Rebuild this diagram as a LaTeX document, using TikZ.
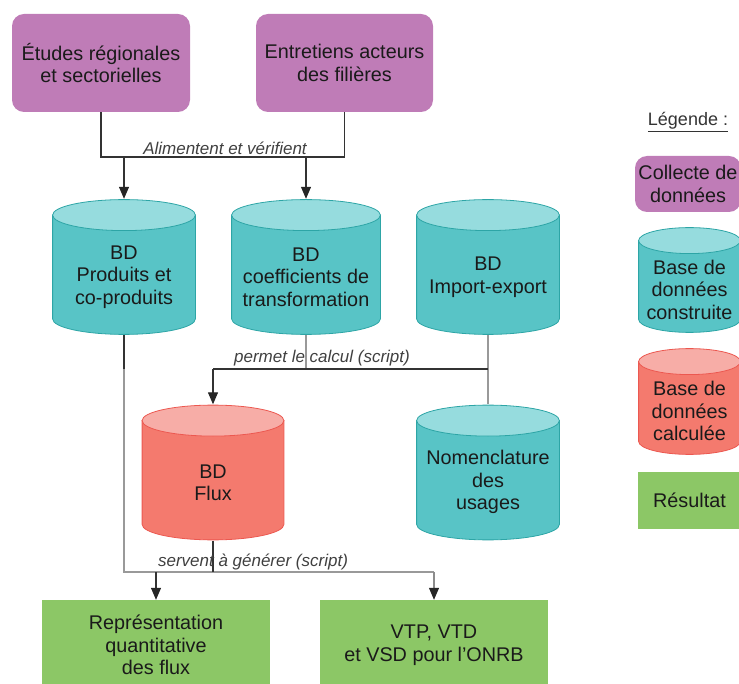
\documentclass[tikz,border=0pt]{standalone}
\usepackage{fontspec}
\setsansfont{Liberation Sans}
\usetikzlibrary{arrows.meta}
\usetikzlibrary{calc}

\definecolor{violet}{RGB}{191,124,183}
\definecolor{cyanCorps}{RGB}{88,196,198}
\definecolor{cyanHaut}{RGB}{150,220,222}
\definecolor{cyanBord}{RGB}{45,165,166}
\definecolor{rougeCorps}{RGB}{244,122,110}
\definecolor{rougeHaut}{RGB}{247,173,167}
\definecolor{rougeBord}{RGB}{236,88,80}
\definecolor{vert}{RGB}{140,199,102}
\definecolor{texte}{RGB}{26,26,26}

% cylindre dessine dans le rectangle du noeud : corps, dessus, bord, demi-hauteur de l'ellipse
\newcommand{\cylindreBD}[4]{%
	\path let \p1 = (path picture bounding box.north west), \p2 = (path picture bounding box.south east),
		\n1 = {(\x2-\x1)/2-0.6pt}, \n2 = {#4} in
		[fill = #1, draw = #3, line width = 0.8pt] ({\x1+0.6pt}, {\y1-\n2-0.6pt}) -- ({\x1+0.6pt}, {\y2+\n2+0.6pt})
		arc[start angle = 180, end angle = 360, x radius = {\n1*1pt}, y radius = {\n2*1pt}] -- ({\x2-0.6pt}, {\y1-\n2-0.6pt}) -- cycle;
	\path let \p1 = (path picture bounding box.north west), \p2 = (path picture bounding box.south east),
		\n1 = {(\x2-\x1)/2-0.6pt}, \n2 = {#4}, \n3 = {(\x1+\x2)/2} in
		[fill = #2, draw = #3, line width = 0.8pt] ({\n3*1pt}, {\y1-\n2-0.6pt}) ellipse [x radius = {\n1*1pt}, y radius = {\n2*1pt}];%
}
\newcommand{\haut}{\rule{0pt}{34pt}}

\begin{document}
\begin{tikzpicture}[x = 1pt, y = -1pt, font=\sffamily\fontsize{19.8}{22.5}\selectfont, text = texte]
	\tikzstyle{collecteStyle} = [rectangle, rounded corners = 12pt, fill = violet, align = center, inner sep = 0pt]
	\tikzstyle{construiteStyle} = [rectangle, align = center, inner sep = 0pt, path picture = {\cylindreBD{cyanCorps}{cyanHaut}{cyanBord}{15.5pt}}]
	\tikzstyle{calculeeStyle} = [rectangle, align = center, inner sep = 0pt, path picture = {\cylindreBD{rougeCorps}{rougeHaut}{rougeBord}{15.5pt}}]
	\tikzstyle{legConstruiteStyle} = [rectangle, align = center, inner sep = 0pt, path picture = {\cylindreBD{cyanCorps}{cyanHaut}{cyanBord}{13pt}}]
	\tikzstyle{legCalculeeStyle} = [rectangle, align = center, inner sep = 0pt, path picture = {\cylindreBD{rougeCorps}{rougeHaut}{rougeBord}{13pt}}]
	\tikzstyle{resultatStyle} = [rectangle, fill = vert, align = center, inner sep = 0pt]
	\tikzstyle{lienFonce} = [draw = black!80, line width = 1.2pt]
	\tikzstyle{lienClair} = [draw = black!40, line width = 1.2pt]
	\tikzstyle{fleche} = [-{Triangle[length = 12pt, width = 10pt, color = black!85]}, draw = black!80, line width = 1.2pt]
	\tikzstyle{labelStyle} = [font = \sffamily\itshape\fontsize{17}{20}\selectfont, text = black!75, inner sep = 1pt]
	\useasboundingbox (0,0) rectangle (739,684);
	\clip (0,0) rectangle (739,684);
	% collecte
	\node[collecteStyle, minimum width = 178pt, minimum height = 98pt] (etudes) at (101,63) {\'Etudes r\'egionales\\et sectorielles};
	\node[collecteStyle, minimum width = 177pt, minimum height = 98pt] (entretiens) at (344.5,63) {Entretiens acteurs\\des fili\`eres};
	% bases construites
	\node[construiteStyle, minimum width = 144pt, minimum height = 136pt] (produits) at (124,267) {\haut BD\\Produits et\\co-produits};
	\node[construiteStyle, minimum width = 150pt, minimum height = 136pt] (coeff) at (306,267) {\haut BD\\coefficients de\\transformation};
	\node[construiteStyle, minimum width = 144pt, minimum height = 136pt] (import) at (488,267) {\haut BD\\Import-export};
	\node[calculeeStyle, minimum width = 143pt, minimum height = 136pt] (flux) at (213,472.5) {\haut BD\\Flux};
	\node[construiteStyle, minimum width = 144pt, minimum height = 136pt] (nomenclature) at (488,472.5) {\haut Nomenclature\\des\\usages};
	% resultats
	\node[resultatStyle, minimum width = 228pt, minimum height = 90pt] (representation) at (156,645) {Repr\'esentation\\quantitative\\des flux};
	\node[resultatStyle, minimum width = 228pt, minimum height = 90pt] (vtp) at (434,645) {VTP, VTD\\et VSD pour l'ONRB};
	% liens
	\coordinate (jA) at (225,157);
	\coordinate (jB) at (306,369);
	\coordinate (jC) at (213,572);
	\draw[lienFonce] (etudes.south) |- (jA) -| (entretiens.south);
	\draw[fleche] (produits.north |- jA) -- (produits.north);
	\draw[fleche] (coeff.north |- jA) -- (coeff.north);
	\node[labelStyle, above = 1pt] (alimentent) at (jA) {Alimentent et v\'erifient};
	\draw[lienClair] (produits.south) |- (vtp.north |- jC);
	\draw[lienFonce] (produits.south) -- (produits.south |- jB);
	\draw[lienClair] (coeff.south) -- (jB);
	\draw[lienClair] (import.south) -- (nomenclature.north);
	\draw[lienFonce] (import.south |- jB) -- (flux.north |- jB);
	\draw[fleche] (flux.north |- jB) -- (flux.north);
	\node[labelStyle, above = 2pt] (permet) at (322,369) {permet le calcul (script)};
	\draw[lienFonce] (flux.south) -- (jC);
	\draw[fleche, draw = black!45] (vtp.north |- jC) -- (vtp.north);
	\draw[fleche] (representation.north |- jC) -- (representation.north);
	\node[labelStyle, above = 1pt] (servent) at (253,572) {servent \`a g\'en\'erer (script)};
	% legende
	\node[font = \sffamily\fontsize{18}{20}\selectfont, text = black!80] (legende) at (688,122) {\underline{L\'egende :}};
	\node[collecteStyle, minimum width = 106pt, minimum height = 56pt] (legCollecte) at (688,184) {Collecte de\\donn\'ees};
	\node[legConstruiteStyle, minimum width = 103pt, minimum height = 106pt] (legConstruite) at (689.5,280) {\haut Base de\\donn\'ees\\construite};
	\node[legCalculeeStyle, minimum width = 103pt, minimum height = 107pt] (legCalculee) at (689.5,401.5) {\haut Base de\\donn\'ees\\calcul\'ee};
	\node[resultatStyle, minimum width = 103pt, minimum height = 57pt] (legResultat) at (689.5,500.5) {R\'esultat};
\end{tikzpicture}
\end{document}
